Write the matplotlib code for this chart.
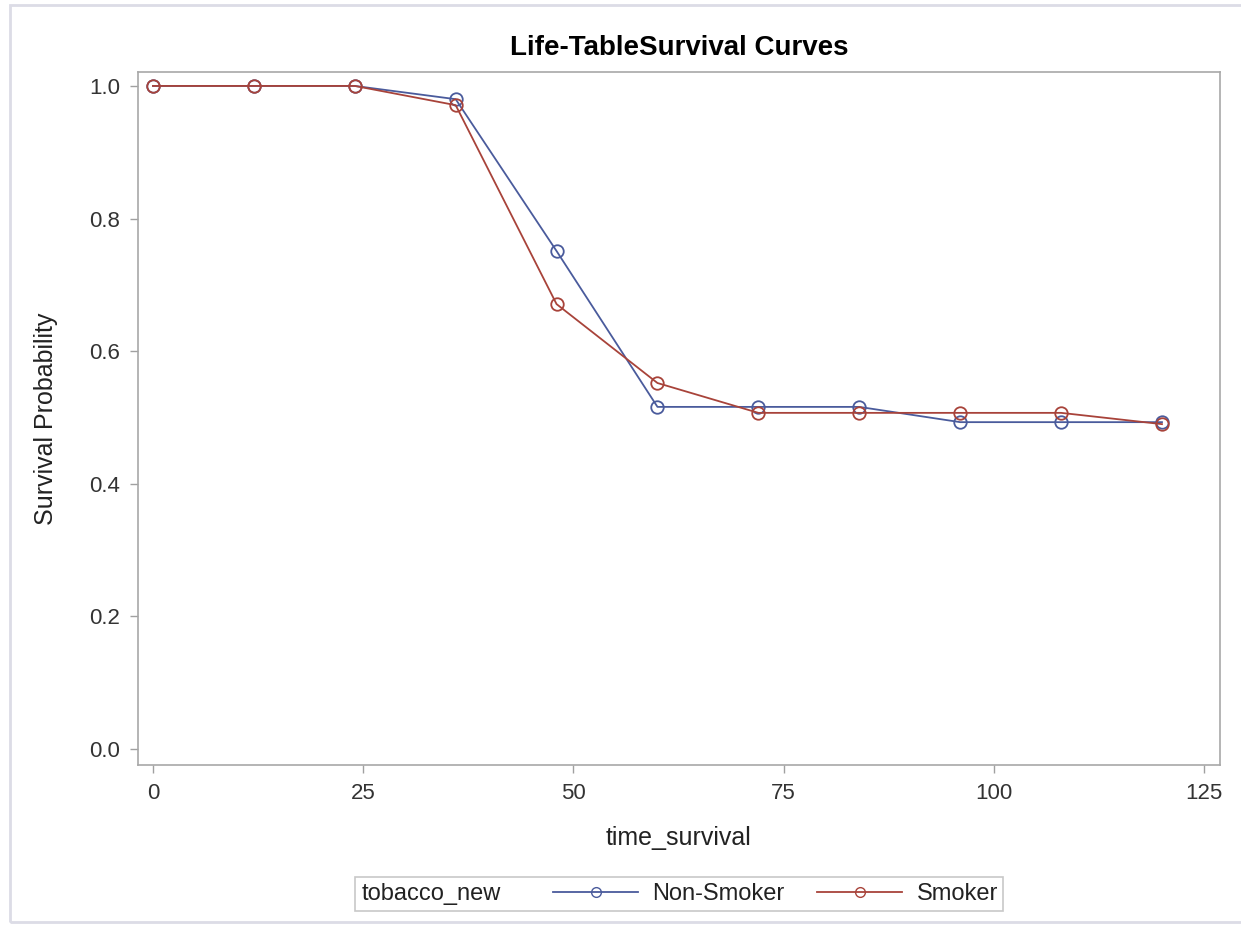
import matplotlib.pyplot as plt
from matplotlib.lines import Line2D
from matplotlib.patches import Rectangle

plt.rcParams['font.family'] = ['Liberation Sans', 'DejaVu Sans']

time = [0, 12, 24, 36, 48, 60, 72, 84, 96, 108, 120]
non_smoker = [1.0, 1.0, 1.0, 0.980, 0.751, 0.516, 0.516, 0.516, 0.493, 0.493, 0.493]
smoker = [1.0, 1.0, 1.0, 0.971, 0.671, 0.552, 0.507, 0.507, 0.507, 0.507, 0.490]
groups = ['Non-Smoker', 'Smoker']
colors = ['#4a5b9c', '#a8433a']

W, H = 1241, 926
fig = plt.figure(figsize=(W / 100, H / 100), dpi=100)
fig.patch.set_facecolor('white')
# light frame round the whole picture
fig.patches.append(Rectangle((10 / W, 0.004), 1.0, 1 - 5 / H - 0.004,
                             transform=fig.transFigure, fill=False,
                             edgecolor='#dcdce6', linewidth=2))

ax = fig.add_axes([138 / W, 1 - 765 / H, (1220 - 138) / W, (765 - 72) / H])
for vals, name, c in zip([non_smoker, smoker], groups, colors):
    ax.plot(time, vals, color=c, lw=1.3, marker='o', ms=9,
            mfc='none', mec=c, mew=1.3, label=name)

ax.set_xlim(-1.78, 126.9)
ax.set_ylim(-0.024, 1.021)
ax.set_xticks([0, 25, 50, 75, 100, 125])
ax.set_yticks([0.0, 0.2, 0.4, 0.6, 0.8, 1.0])
ax.set_yticklabels(['0.0', '0.2', '0.4', '0.6', '0.8', '1.0'])
ax.tick_params(direction='out', length=6, width=1, color='#a0a0a0',
               labelsize=16, labelcolor='#333333', pad=7)
for s in ax.spines.values():
    s.set_color('#a8a8a8')
    s.set_linewidth(1.2)

ax.set_title('Life-TableSurvival Curves', fontsize=20, fontweight='bold', pad=12)
ax.set_xlabel('time_survival', fontsize=18, color='#222222', labelpad=16)
ax.set_ylabel('Survival Probability', fontsize=18, color='#222222', labelpad=22)

# legend: group variable name on the left, entries to its right, one frame round both
ly = 1 - 894 / H
fig.patches.append(Rectangle((355 / W, 1 - 911 / H), (1003 - 355) / W, 34 / H,
                             transform=fig.transFigure, fill=False,
                             edgecolor='#c8c8c8', linewidth=1.2))
fig.text(362 / W, ly, 'tobacco_new', fontsize=17, color='#222222', va='center', ha='left')
handles = [Line2D([], [], color=c, lw=1.3, marker='o', ms=7, mfc='none', mec=c)
           for c in colors]
fig.legend(handles, groups, loc='center left', bbox_to_anchor=(553 / W, ly),
           ncol=2, fontsize=17, frameon=False, handlelength=3.6,
           handletextpad=0.6, columnspacing=1.4, borderpad=0, borderaxespad=0,
           labelcolor='#222222')

fig.savefig('out.png', dpi=100)
